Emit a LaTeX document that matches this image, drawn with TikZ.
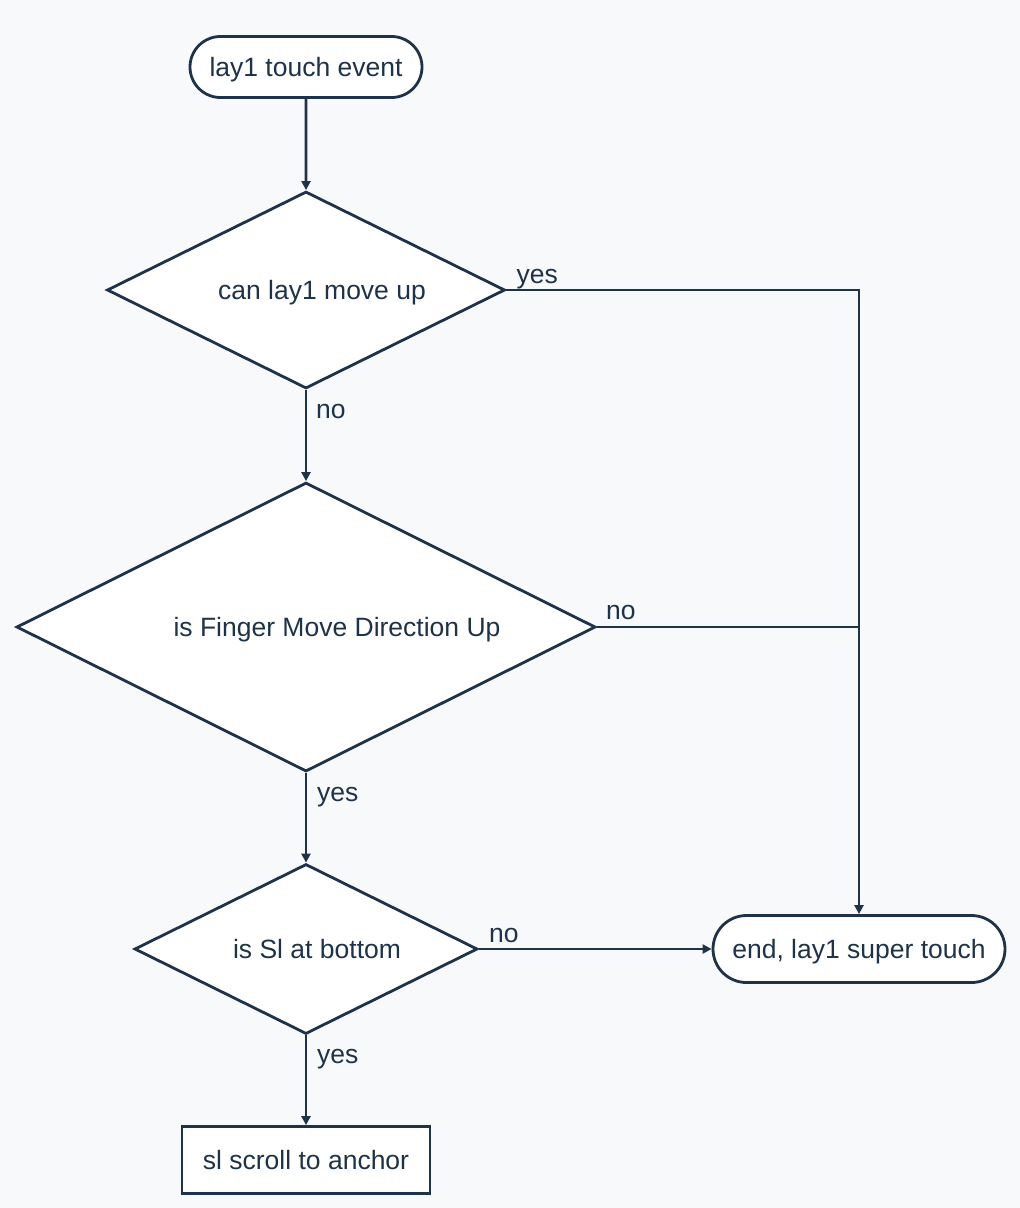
\documentclass[tikz,border=0pt]{standalone}
\usepackage{fontspec}
\setmainfont{Liberation Sans}
\usetikzlibrary{arrows.meta,shapes.geometric,shapes.misc}
\definecolor{ink}{HTML}{1E3349}
\definecolor{paper}{HTML}{F8F9FB}
\tikzset{
  flow/.style={draw=ink, line width=2.8pt, fill=white, text=ink, inner sep=0pt, text height=19pt, text depth=0pt},
  term/.style={flow, rounded rectangle},
  decide/.style={flow, diamond, aspect=2},
  act/.style={flow, rectangle},
  arr/.style={draw=ink, line width=2.8pt, -{Triangle[length=9pt,width=9pt]}},
  lnk/.style={draw=ink, line width=2.8pt},
  lbl/.style={anchor=base west, inner sep=0pt, text=ink}
}
\begin{document}
\begin{tikzpicture}[x=1pt, y=-1pt, font=\fontsize{26.5}{30}\selectfont]
\fill[paper] (0,0) rectangle (1020,1208);
\useasboundingbox (0,0) rectangle (1020,1208);
\node[term, minimum width=232pt, minimum height=61pt] (start) at (306,67) {lay1 touch event};
\node[decide, minimum width=398pt, minimum height=197pt] (up) at (306,290) {\hspace*{32pt}can lay1 move up};
\node[decide, minimum width=579pt, minimum height=289pt] (dir) at (306,627) {\hspace*{62pt}is Finger Move Direction Up};
\node[decide, minimum width=343pt, minimum height=170pt] (bot) at (306,949) {\hspace*{22pt}is Sl at bottom};
\node[term, minimum width=292pt, minimum height=67pt] (fin) at (859,949) {end, lay1 super touch};
\node[act, minimum width=248pt, minimum height=67pt] (anc) at (306,1160) {sl scroll to anchor};
\draw[arr] (start) -- (up.north);
\draw[arr] (up.east) -- (fin.north |- up.east) -- (fin.north);
\node[lbl, xshift=10pt, yshift=7pt] at (up.east) {yes};
\draw[arr] (up.south) -- (dir.north);
\node[lbl, xshift=10pt, yshift=-29pt] at (up.south) {no};
\draw[lnk] (dir.east) -- (fin.north |- dir.east);
\node[lbl, xshift=9pt, yshift=8pt] at (dir.east) {no};
\draw[arr] (dir.south) -- (bot.north);
\node[lbl, xshift=11pt, yshift=-29pt] at (dir.south) {yes};
\draw[arr] (bot.east) -- (fin.west);
\node[lbl, xshift=10pt, yshift=7pt] at (bot.east) {no};
\draw[arr] (bot.south) -- (anc.north);
\node[lbl, xshift=11pt, yshift=-28pt] at (bot.south) {yes};
\end{tikzpicture}
\end{document}
